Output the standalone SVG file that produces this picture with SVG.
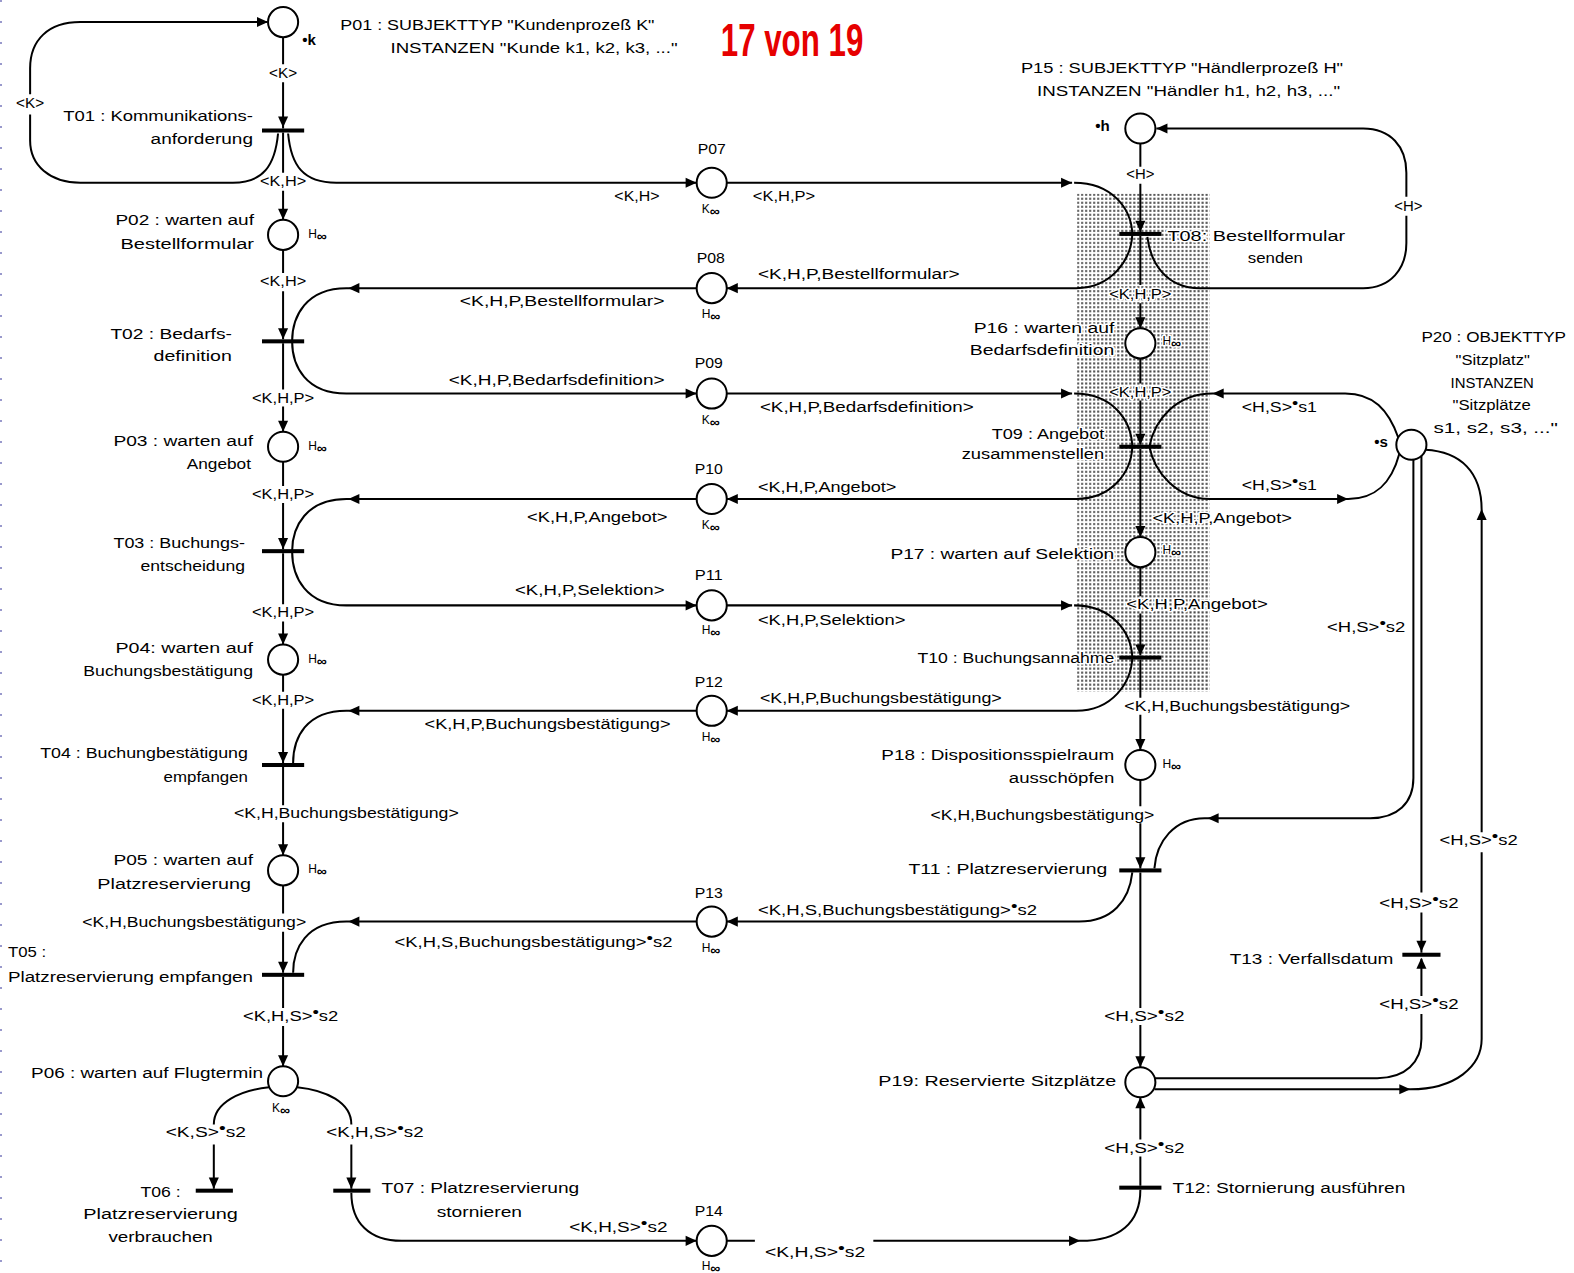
<svg xmlns="http://www.w3.org/2000/svg" xmlns:xlink="http://www.w3.org/1999/xlink" width="1574" height="1273" viewBox="0 0 1574 1273">
<style>
.ln{fill:none;stroke:#000;stroke-width:2}
.pl{fill:#fff;stroke:#000;stroke-width:2}
.tr{fill:#000}
text{font-family:"Liberation Sans",Arial,sans-serif;font-size:15px;fill:#000}
.m{text-anchor:middle}
.h{font-size:12px}
.inf{font-size:14px;font-weight:bold}
.halo{paint-order:stroke;stroke:#fff;stroke-width:3px;stroke-linejoin:round}
.red{font-family:"Liberation Sans Narrow","Liberation Sans",Arial,sans-serif;font-weight:bold;font-size:46px;fill:#e60000}
</style>
<defs>
<path id="ah" d="M0,0 L-11,-5 L-11,5 Z" fill="#000"/>
<pattern id="dots" width="4" height="4" patternUnits="userSpaceOnUse"><rect width="4" height="4" fill="#fff"/><rect x="1" y="1" width="2" height="2" fill="#444"/></pattern>
</defs>
<rect width="1574" height="1273" fill="#fff"/>
<line x1="1" y1="0" x2="1" y2="1273" stroke="#99c" stroke-width="2" stroke-dasharray="2 19"/>
<g transform="scale(1.00383,1.00394)">
<rect id="shade" x="1073" y="193" width="132" height="496" fill="url(#dots)"/>
<text class="red" x="718" y="56" textLength="142" lengthAdjust="spacingAndGlyphs">17 von 19</text>

<g id="connectors">
<!-- left column -->
<path class="ln" d="M282,37 V64 M282,82 V128"/>
<use xlink:href="#ah" transform="translate(282,127) rotate(90)"/>
<path class="ln" d="M277,133 C274,165 262,182 232,182 L80,182 C50,182 30,165 30,140 V114 M30,94 V68 C30,40 48,22 80,22 L266,22"/>
<use xlink:href="#ah" transform="translate(267,22)"/>
<path class="ln" d="M287,133 C290,165 302,182 335,182 L694,182"/>
<use xlink:href="#ah" transform="translate(694,182)"/>
<path class="ln" d="M282,132 V172 M282,190 V219"/>
<use xlink:href="#ah" transform="translate(282,219) rotate(90)"/>
<path class="ln" d="M282,249 V272 M282,290 V338"/>
<use xlink:href="#ah" transform="translate(282,338) rotate(90)"/>
<path class="ln" d="M694,287 L345,287 C305,287 291,315 291,340 C291,365 305,392 345,392 L694,392"/>
<use xlink:href="#ah" transform="translate(347,287) rotate(180)"/>
<use xlink:href="#ah" transform="translate(694,392)"/>
<path class="ln" d="M282,342 V388 M282,405 V430"/>
<use xlink:href="#ah" transform="translate(282,430) rotate(90)"/>
<path class="ln" d="M282,460 V484 M282,501 V547"/>
<use xlink:href="#ah" transform="translate(282,547) rotate(90)"/>
<path class="ln" d="M694,497 L345,497 C305,497 291,525 291,549 C291,575 305,603 345,603 L694,603"/>
<use xlink:href="#ah" transform="translate(347,497) rotate(180)"/>
<use xlink:href="#ah" transform="translate(694,603)"/>
<path class="ln" d="M282,551 V602 M282,619 V642"/>
<use xlink:href="#ah" transform="translate(282,642) rotate(90)"/>
<path class="ln" d="M282,672 V689 M282,706 V760"/>
<use xlink:href="#ah" transform="translate(282,760) rotate(90)"/>
<path class="ln" d="M694,708 L345,708 C305,708 292,735 292,760"/>
<use xlink:href="#ah" transform="translate(347,708) rotate(180)"/>
<path class="ln" d="M282,764 V802 M282,819 V852"/>
<use xlink:href="#ah" transform="translate(282,852) rotate(90)"/>
<path class="ln" d="M282,882 V910 M282,928 V969"/>
<use xlink:href="#ah" transform="translate(282,969) rotate(90)"/>
<path class="ln" d="M694,918 L345,918 C305,918 292,945 292,969"/>
<use xlink:href="#ah" transform="translate(347,918) rotate(180)"/>
<path class="ln" d="M282,973 V1004 M282,1022 V1062"/>
<use xlink:href="#ah" transform="translate(282,1062) rotate(90)"/>
<path class="ln" d="M268,1083 C240,1086 213,1098 213,1120 M213,1140 V1184"/>
<use xlink:href="#ah" transform="translate(213,1184) rotate(90)"/>
<path class="ln" d="M296,1083 C325,1086 350,1098 350,1120 M350,1140 V1184"/>
<use xlink:href="#ah" transform="translate(350,1184) rotate(90)"/>
<path class="ln" d="M350,1188 C350,1218 368,1236 400,1236 L694,1236"/>
<use xlink:href="#ah" transform="translate(694,1236)"/>
<path class="ln" d="M724,1236 L752,1236 M870,1236 L1076,1236 C1115,1236 1136,1218 1136,1185"/>
<use xlink:href="#ah" transform="translate(1076,1236)"/>
<!-- middle to right -->
<path class="ln" d="M724,182 L1068,182 M1070,182 C1108,182 1127,208 1128,233 C1127,258 1108,287 1072,287 L724,287"/>
<use xlink:href="#ah" transform="translate(1068,182)"/>
<use xlink:href="#ah" transform="translate(724,287) rotate(180)"/>
<path class="ln" d="M1143,236 C1146,262 1162,287 1195,287 L1358,287 C1385,287 1401,268 1401,242 V215 M1401,196 V172 C1401,146 1385,128 1358,128 L1152,128"/>
<use xlink:href="#ah" transform="translate(1152,128) rotate(180)"/>
<path class="ln" d="M724,392 L1068,392 M1070,392 C1108,392 1127,418 1128,445 C1127,470 1108,497 1072,497 L724,497"/>
<use xlink:href="#ah" transform="translate(1068,392)"/>
<use xlink:href="#ah" transform="translate(724,497) rotate(180)"/>
<path class="ln" d="M1393,436 C1383,408 1368,392 1340,392 L1208,392 C1172,392 1150,418 1145,445 C1150,470 1172,497 1205,497 L1343,497 C1370,497 1386,482 1394,452"/>
<use xlink:href="#ah" transform="translate(1208,392) rotate(180)"/>
<use xlink:href="#ah" transform="translate(1343,497)"/>
<path class="ln" d="M724,603 L1068,603 M1070,603 C1108,603 1127,630 1128,655 C1127,680 1108,708 1072,708 L724,708"/>
<use xlink:href="#ah" transform="translate(1068,603)"/>
<use xlink:href="#ah" transform="translate(724,708) rotate(180)"/>
<path class="ln" d="M1408,458 V775 C1408,800 1392,815 1365,815 L1200,815 C1170,815 1152,838 1150,865"/>
<use xlink:href="#ah" transform="translate(1203,815) rotate(180)"/>
<path class="ln" d="M1128,869 C1125,897 1108,918 1075,918 L724,918"/>
<use xlink:href="#ah" transform="translate(724,918) rotate(180)"/>
<!-- right column -->
<path class="ln" d="M1136,143 V166 M1136,183 V231"/>
<use xlink:href="#ah" transform="translate(1136,231) rotate(90)"/>
<path class="ln" d="M1136,235 V284 M1136,302 V327"/>
<use xlink:href="#ah" transform="translate(1136,327) rotate(90)"/>
<path class="ln" d="M1136,357 V382 M1136,399 V443"/>
<use xlink:href="#ah" transform="translate(1136,443) rotate(90)"/>
<path class="ln" d="M1136,447 V535"/>
<use xlink:href="#ah" transform="translate(1136,535) rotate(90)"/>
<path class="ln" d="M1136,565 V594 M1136,611 V653"/>
<use xlink:href="#ah" transform="translate(1136,653) rotate(90)"/>
<path class="ln" d="M1136,657 V695 M1136,712 V747"/>
<use xlink:href="#ah" transform="translate(1136,747) rotate(90)"/>
<path class="ln" d="M1136,777 V803 M1136,820 V865"/>
<use xlink:href="#ah" transform="translate(1136,865) rotate(90)"/>
<path class="ln" d="M1136,869 V1004 M1136,1021 V1063"/>
<use xlink:href="#ah" transform="translate(1136,1063) rotate(90)"/>
<path class="ln" d="M1136,1181 V1152 M1136,1135 V1093"/>
<use xlink:href="#ah" transform="translate(1136,1093) rotate(270)"/>
<path class="ln" d="M1416,453 V889 M1416,909 V949"/>
<use xlink:href="#ah" transform="translate(1416,948) rotate(90)"/>
<path class="ln" d="M1150,1074 L1372,1074 C1400,1074 1416,1058 1416,1035 V1010 M1416,992 V955"/>
<use xlink:href="#ah" transform="translate(1416,954) rotate(270)"/>
<path class="ln" d="M1150,1085 L1405,1085 C1450,1085 1476,1062 1476,1035 V849 M1476,829 V508 C1476,470 1455,450 1420,448"/>
<use xlink:href="#ah" transform="translate(1405,1085)"/>
<use xlink:href="#ah" transform="translate(1476,507) rotate(270)"/>
<!-- edge labels -->
<text x="268" y="78" textLength="28" lengthAdjust="spacingAndGlyphs">&lt;K&gt;</text>
<text x="16" y="108" textLength="28" lengthAdjust="spacingAndGlyphs">&lt;K&gt;</text>
<text x="259" y="185" textLength="46" lengthAdjust="spacingAndGlyphs">&lt;K,H&gt;</text>
<text x="612" y="200" textLength="45" lengthAdjust="spacingAndGlyphs">&lt;K,H&gt;</text>
<text x="750" y="200" textLength="62" lengthAdjust="spacingAndGlyphs">&lt;K,H,P&gt;</text>
<text x="259" y="285" textLength="46" lengthAdjust="spacingAndGlyphs">&lt;K,H&gt;</text>
<text x="755" y="278" textLength="201" lengthAdjust="spacingAndGlyphs">&lt;K,H,P,Bestellformular&gt;</text>
<text x="458" y="305" textLength="204" lengthAdjust="spacingAndGlyphs">&lt;K,H,P,Bestellformular&gt;</text>
<text x="447" y="383" textLength="215" lengthAdjust="spacingAndGlyphs">&lt;K,H,P,Bedarfsdefinition&gt;</text>
<text x="757" y="410" textLength="213" lengthAdjust="spacingAndGlyphs">&lt;K,H,P,Bedarfsdefinition&gt;</text>
<text x="251" y="401" textLength="62" lengthAdjust="spacingAndGlyphs">&lt;K,H,P&gt;</text>
<text x="251" y="497" textLength="62" lengthAdjust="spacingAndGlyphs">&lt;K,H,P&gt;</text>
<text x="755" y="490" textLength="138" lengthAdjust="spacingAndGlyphs">&lt;K,H,P,Angebot&gt;</text>
<text x="525" y="520" textLength="140" lengthAdjust="spacingAndGlyphs">&lt;K,H,P,Angebot&gt;</text>
<text x="251" y="615" textLength="62" lengthAdjust="spacingAndGlyphs">&lt;K,H,P&gt;</text>
<text x="513" y="593" textLength="149" lengthAdjust="spacingAndGlyphs">&lt;K,H,P,Selektion&gt;</text>
<text x="755" y="623" textLength="147" lengthAdjust="spacingAndGlyphs">&lt;K,H,P,Selektion&gt;</text>
<text x="251" y="702" textLength="62" lengthAdjust="spacingAndGlyphs">&lt;K,H,P&gt;</text>
<text x="757" y="700" textLength="241" lengthAdjust="spacingAndGlyphs">&lt;K,H,P,Buchungsbestätigung&gt;</text>
<text x="423" y="726" textLength="245" lengthAdjust="spacingAndGlyphs">&lt;K,H,P,Buchungsbestätigung&gt;</text>
<text x="233" y="815" textLength="224" lengthAdjust="spacingAndGlyphs">&lt;K,H,Buchungsbestätigung&gt;</text>
<text x="755" y="911" textLength="278" lengthAdjust="spacingAndGlyphs">&lt;K,H,S,Buchungsbestätigung&gt;<tspan dy="-4">•</tspan><tspan dy="4">s2</tspan></text>
<text x="393" y="943" textLength="277" lengthAdjust="spacingAndGlyphs">&lt;K,H,S,Buchungsbestätigung&gt;<tspan dy="-4">•</tspan><tspan dy="4">s2</tspan></text>
<text x="82" y="923" textLength="223" lengthAdjust="spacingAndGlyphs">&lt;K,H,Buchungsbestätigung&gt;</text>
<text x="242" y="1017" textLength="95" lengthAdjust="spacingAndGlyphs">&lt;K,H,S&gt;<tspan dy="-4">•</tspan><tspan dy="4">s2</tspan></text>
<text x="165" y="1133" textLength="80" lengthAdjust="spacingAndGlyphs">&lt;K,S&gt;<tspan dy="-4">•</tspan><tspan dy="4">s2</tspan></text>
<text x="325" y="1133" textLength="97" lengthAdjust="spacingAndGlyphs">&lt;K,H,S&gt;<tspan dy="-4">•</tspan><tspan dy="4">s2</tspan></text>
<text x="567" y="1227" textLength="98" lengthAdjust="spacingAndGlyphs">&lt;K,H,S&gt;<tspan dy="-4">•</tspan><tspan dy="4">s2</tspan></text>
<text x="762" y="1252" textLength="100" lengthAdjust="spacingAndGlyphs">&lt;K,H,S&gt;<tspan dy="-4">•</tspan><tspan dy="4">s2</tspan></text>
<text x="1122" y="178" textLength="28" lengthAdjust="spacingAndGlyphs">&lt;H&gt;</text>
<text x="1389" y="210" textLength="28" lengthAdjust="spacingAndGlyphs">&lt;H&gt;</text>
<text class="halo" x="1105" y="298" textLength="62" lengthAdjust="spacingAndGlyphs">&lt;K,H,P&gt;</text>
<text class="halo" x="1105" y="395" textLength="62" lengthAdjust="spacingAndGlyphs">&lt;K,H,P&gt;</text>
<text x="1237" y="410" textLength="75" lengthAdjust="spacingAndGlyphs">&lt;H,S&gt;<tspan dy="-4">•</tspan><tspan dy="4">s1</tspan></text>
<text x="1237" y="488" textLength="75" lengthAdjust="spacingAndGlyphs">&lt;H,S&gt;<tspan dy="-4">•</tspan><tspan dy="4">s1</tspan></text>
<text class="halo" x="1148" y="521" textLength="139" lengthAdjust="spacingAndGlyphs">&lt;K,H,P,Angebot&gt;</text>
<text class="halo" x="1122" y="607" textLength="141" lengthAdjust="spacingAndGlyphs">&lt;K,H,P,Angebot&gt;</text>
<text x="1322" y="630" textLength="78" lengthAdjust="spacingAndGlyphs">&lt;H,S&gt;<tspan dy="-4">•</tspan><tspan dy="4">s2</tspan></text>
<text x="1120" y="708" textLength="225" lengthAdjust="spacingAndGlyphs">&lt;K,H,Buchungsbestätigung&gt;</text>
<text x="927" y="817" textLength="223" lengthAdjust="spacingAndGlyphs">&lt;K,H,Buchungsbestätigung&gt;</text>
<text x="1434" y="842" textLength="78" lengthAdjust="spacingAndGlyphs">&lt;H,S&gt;<tspan dy="-4">•</tspan><tspan dy="4">s2</tspan></text>
<text x="1374" y="904" textLength="79" lengthAdjust="spacingAndGlyphs">&lt;H,S&gt;<tspan dy="-4">•</tspan><tspan dy="4">s2</tspan></text>
<text x="1374" y="1005" textLength="79" lengthAdjust="spacingAndGlyphs">&lt;H,S&gt;<tspan dy="-4">•</tspan><tspan dy="4">s2</tspan></text>
<text x="1100" y="1017" textLength="80" lengthAdjust="spacingAndGlyphs">&lt;H,S&gt;<tspan dy="-4">•</tspan><tspan dy="4">s2</tspan></text>
<text x="1100" y="1148" textLength="80" lengthAdjust="spacingAndGlyphs">&lt;H,S&gt;<tspan dy="-4">•</tspan><tspan dy="4">s2</tspan></text>
</g>

<!-- nodes -->
<g id="P01"><circle class="pl" cx="282" cy="22" r="15"/>
<text x="339" y="30" textLength="313" lengthAdjust="spacingAndGlyphs">P01 : SUBJEKTTYP "Kundenprozeß K"</text>
<text x="389" y="53" textLength="286" lengthAdjust="spacingAndGlyphs">INSTANZEN "Kunde k1, k2, k3, ..."</text>
<text x="301" y="45" font-weight="bold">•k</text></g>
<g id="T01"><rect class="tr" x="261" y="128" width="42" height="4"/>
<text x="63" y="121" textLength="189" lengthAdjust="spacingAndGlyphs">T01 : Kommunikations-</text>
<text x="150" y="143" textLength="102" lengthAdjust="spacingAndGlyphs">anforderung</text></g>
<g id="P02"><circle class="pl" cx="282" cy="234" r="15"/>
<text x="115" y="224" textLength="138" lengthAdjust="spacingAndGlyphs">P02 : warten auf</text>
<text x="120" y="248" textLength="133" lengthAdjust="spacingAndGlyphs">Bestellformular</text>
<text x="307" y="237"><tspan class="h">H</tspan><tspan class="inf" dy="3">∞</tspan></text></g>
<g id="T02"><rect class="tr" x="261" y="338" width="42" height="4"/>
<text x="110" y="338" textLength="121" lengthAdjust="spacingAndGlyphs">T02 : Bedarfs-</text>
<text x="153" y="360" textLength="78" lengthAdjust="spacingAndGlyphs">definition</text></g>
<g id="P03"><circle class="pl" cx="282" cy="445" r="15"/>
<text x="113" y="444" textLength="139" lengthAdjust="spacingAndGlyphs">P03 : warten auf</text>
<text x="186" y="467" textLength="64" lengthAdjust="spacingAndGlyphs">Angebot</text>
<text x="307" y="448"><tspan class="h">H</tspan><tspan class="inf" dy="3">∞</tspan></text></g>
<g id="T03"><rect class="tr" x="261" y="547" width="42" height="4"/>
<text x="113" y="546" textLength="131" lengthAdjust="spacingAndGlyphs">T03 : Buchungs-</text>
<text x="140" y="569" textLength="104" lengthAdjust="spacingAndGlyphs">entscheidung</text></g>
<g id="P04"><circle class="pl" cx="282" cy="657" r="15"/>
<text x="115" y="650" textLength="137" lengthAdjust="spacingAndGlyphs">P04: warten auf</text>
<text x="83" y="673" textLength="169" lengthAdjust="spacingAndGlyphs">Buchungsbestätigung</text>
<text x="307" y="660"><tspan class="h">H</tspan><tspan class="inf" dy="3">∞</tspan></text></g>
<g id="T04"><rect class="tr" x="261" y="760" width="42" height="4"/>
<text x="40" y="755" textLength="207" lengthAdjust="spacingAndGlyphs">T04 : Buchungbestätigung</text>
<text x="163" y="779" textLength="84" lengthAdjust="spacingAndGlyphs">empfangen</text></g>
<g id="P05"><circle class="pl" cx="282" cy="867" r="15"/>
<text x="113" y="862" textLength="139" lengthAdjust="spacingAndGlyphs">P05 : warten auf</text>
<text x="97" y="886" textLength="153" lengthAdjust="spacingAndGlyphs">Platzreservierung</text>
<text x="307" y="870"><tspan class="h">H</tspan><tspan class="inf" dy="3">∞</tspan></text></g>
<g id="T05"><rect class="tr" x="261" y="969" width="42" height="4"/>
<text x="8" y="953" textLength="38" lengthAdjust="spacingAndGlyphs">T05 :</text>
<text x="8" y="978" textLength="244" lengthAdjust="spacingAndGlyphs">Platzreservierung empfangen</text></g>
<g id="P06"><circle class="pl" cx="282" cy="1077" r="15"/>
<text x="31" y="1074" textLength="231" lengthAdjust="spacingAndGlyphs">P06 : warten auf Flugtermin</text>
<text x="271" y="1108"><tspan class="h">K</tspan><tspan class="inf" dy="3">∞</tspan></text></g>
<g id="T06"><rect class="tr" x="195" y="1184" width="37" height="4"/>
<text x="140" y="1192" textLength="40" lengthAdjust="spacingAndGlyphs">T06 :</text>
<text x="83" y="1214" textLength="154" lengthAdjust="spacingAndGlyphs">Platzreservierung</text>
<text x="108" y="1237" textLength="104" lengthAdjust="spacingAndGlyphs">verbrauchen</text></g>
<g id="T07"><rect class="tr" x="332" y="1184" width="37" height="4"/>
<text x="380" y="1188" textLength="197" lengthAdjust="spacingAndGlyphs">T07 : Platzreservierung</text>
<text x="435" y="1212" textLength="85" lengthAdjust="spacingAndGlyphs">stornieren</text></g>

<g id="P07"><circle class="pl" cx="709" cy="182" r="15"/>
<text x="695" y="153" textLength="28" lengthAdjust="spacingAndGlyphs">P07</text>
<text x="699" y="212"><tspan class="h">K</tspan><tspan class="inf" dy="3">∞</tspan></text></g>
<g id="P08"><circle class="pl" cx="709" cy="287" r="15"/>
<text x="694" y="262" textLength="28" lengthAdjust="spacingAndGlyphs">P08</text>
<text x="699" y="317"><tspan class="h">H</tspan><tspan class="inf" dy="3">∞</tspan></text></g>
<g id="P09"><circle class="pl" cx="709" cy="392" r="15"/>
<text x="692" y="367" textLength="28" lengthAdjust="spacingAndGlyphs">P09</text>
<text x="699" y="422"><tspan class="h">K</tspan><tspan class="inf" dy="3">∞</tspan></text></g>
<g id="P10"><circle class="pl" cx="709" cy="497" r="15"/>
<text x="692" y="472" textLength="28" lengthAdjust="spacingAndGlyphs">P10</text>
<text x="699" y="527"><tspan class="h">K</tspan><tspan class="inf" dy="3">∞</tspan></text></g>
<g id="P11"><circle class="pl" cx="709" cy="603" r="15"/>
<text x="692" y="578" textLength="28" lengthAdjust="spacingAndGlyphs">P11</text>
<text x="699" y="632"><tspan class="h">H</tspan><tspan class="inf" dy="3">∞</tspan></text></g>
<g id="P12"><circle class="pl" cx="709" cy="708" r="15"/>
<text x="692" y="684" textLength="28" lengthAdjust="spacingAndGlyphs">P12</text>
<text x="699" y="738"><tspan class="h">H</tspan><tspan class="inf" dy="3">∞</tspan></text></g>
<g id="P13"><circle class="pl" cx="709" cy="918" r="15"/>
<text x="692" y="894" textLength="28" lengthAdjust="spacingAndGlyphs">P13</text>
<text x="699" y="948"><tspan class="h">H</tspan><tspan class="inf" dy="3">∞</tspan></text></g>
<g id="P14"><circle class="pl" cx="709" cy="1236" r="15"/>
<text x="692" y="1211" textLength="28" lengthAdjust="spacingAndGlyphs">P14</text>
<text x="699" y="1265"><tspan class="h">H</tspan><tspan class="inf" dy="3">∞</tspan></text></g>

<g id="P15"><circle class="pl" cx="1136" cy="128" r="15"/>
<text x="1017" y="73" textLength="321" lengthAdjust="spacingAndGlyphs">P15 : SUBJEKTTYP "Händlerprozeß H"</text>
<text x="1033" y="96" textLength="302" lengthAdjust="spacingAndGlyphs">INSTANZEN "Händler h1, h2, h3, ..."</text>
<text x="1091" y="130" font-weight="bold">•h</text></g>
<g id="T08"><rect class="tr" x="1115" y="231" width="42" height="4"/>
<text class="halo" x="1163" y="240" textLength="177" lengthAdjust="spacingAndGlyphs">T08: Bestellformular</text>
<text x="1243" y="262" textLength="55" lengthAdjust="spacingAndGlyphs">senden</text></g>
<g id="P16"><circle class="pl" cx="1136" cy="342" r="15"/>
<text class="halo" x="970" y="332" textLength="140" lengthAdjust="spacingAndGlyphs">P16 : warten auf</text>
<text class="halo" x="966" y="354" textLength="144" lengthAdjust="spacingAndGlyphs">Bedarfsdefinition</text>
<text class="halo" x="1158" y="344"><tspan class="h">H</tspan><tspan class="inf" dy="3">∞</tspan></text></g>
<g id="T09"><rect class="tr" x="1115" y="443" width="42" height="4"/>
<text class="halo" x="988" y="437" textLength="112" lengthAdjust="spacingAndGlyphs">T09 : Angebot</text>
<text class="halo" x="958" y="457" textLength="142" lengthAdjust="spacingAndGlyphs">zusammenstellen</text></g>
<g id="P17"><circle class="pl" cx="1136" cy="550" r="15"/>
<text class="halo" x="887" y="557" textLength="223" lengthAdjust="spacingAndGlyphs">P17 : warten auf Selektion</text>
<text class="halo" x="1158" y="552"><tspan class="h">H</tspan><tspan class="inf" dy="3">∞</tspan></text></g>
<g id="T10"><rect class="tr" x="1115" y="653" width="42" height="4"/>
<text class="halo" x="914" y="660" textLength="196" lengthAdjust="spacingAndGlyphs">T10 : Buchungsannahme</text></g>
<g id="P18"><circle class="pl" cx="1136" cy="762" r="15"/>
<text x="878" y="757" textLength="232" lengthAdjust="spacingAndGlyphs">P18 : Dispositionsspielraum</text>
<text x="1005" y="780" textLength="105" lengthAdjust="spacingAndGlyphs">ausschöpfen</text>
<text x="1158" y="765"><tspan class="h">H</tspan><tspan class="inf" dy="3">∞</tspan></text></g>
<g id="T11"><rect class="tr" x="1115" y="865" width="42" height="4"/>
<text x="905" y="871" textLength="198" lengthAdjust="spacingAndGlyphs">T11 : Platzreservierung</text></g>
<g id="P19"><circle class="pl" cx="1136" cy="1078" r="15"/>
<text x="875" y="1082" textLength="237" lengthAdjust="spacingAndGlyphs">P19: Reservierte Sitzplätze</text></g>
<g id="T12"><rect class="tr" x="1115" y="1181" width="42" height="4"/>
<text x="1168" y="1188" textLength="232" lengthAdjust="spacingAndGlyphs">T12: Stornierung ausführen</text></g>
<g id="P20"><circle class="pl" cx="1406" cy="443" r="15"/>
<text x="1416" y="341" textLength="144" lengthAdjust="spacingAndGlyphs">P20 : OBJEKTTYP</text>
<text x="1450" y="364" textLength="74" lengthAdjust="spacingAndGlyphs">"Sitzplatz"</text>
<text x="1445" y="386" textLength="83" lengthAdjust="spacingAndGlyphs">INSTANZEN</text>
<text x="1447" y="408" textLength="78" lengthAdjust="spacingAndGlyphs">"Sitzplätze</text>
<text x="1428" y="431" textLength="124" lengthAdjust="spacingAndGlyphs">s1, s2, s3, ..."</text>
<text x="1369" y="445" font-weight="bold">•s</text></g>
<g id="T13"><rect class="tr" x="1397" y="949" width="38" height="4"/>
<text x="1225" y="960" textLength="163" lengthAdjust="spacingAndGlyphs">T13 : Verfallsdatum</text></g>
</g>
</svg>
